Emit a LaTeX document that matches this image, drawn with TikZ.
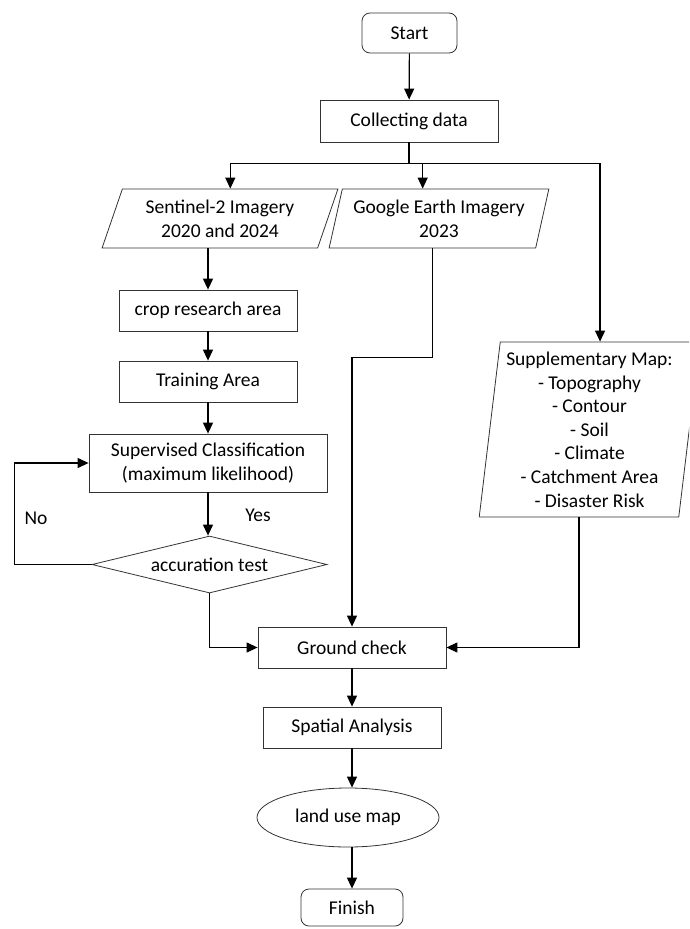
\documentclass[tikz,border=0pt]{standalone}
\usepackage{fontspec}
\setmainfont{Carlito}
\usetikzlibrary{shapes.geometric,arrows.meta}
\tikzset{>={Triangle[length=11pt,width=10pt]}}

\begin{document}
\begin{tikzpicture}[x=1pt,y=-1pt,
  every node/.style={font=\fontsize{19.5}{23.6}\selectfont,inner sep=0pt},
  box/.style={draw=black!80,line width=0.8pt,minimum height=41pt,minimum width=178pt},
  term/.style={box,rounded corners=8pt},
  io/.style={draw=black!80,line width=0.8pt,trapezium,trapezium stretches=true,align=center},
  arr/.style={->,line width=1.2pt}]
  \useasboundingbox (0,0) rectangle (689,929);
  \clip (0,0) rectangle (689,929);

  % top
  \node[term,minimum width=95pt,minimum height=40pt] (start) at (409.5,33) {Start};
  \node[box,minimum height=42pt] (collect) at (409,121) {Collecting data};
  \coordinate (split) at ([yshift=-21pt]collect.south);

  % input data
  \node[io,minimum width=236pt,minimum height=59pt,trapezium left angle=67.5,trapezium right angle=112.5] (sentinel) at (220,218.5) {Sentinel-2 Imagery\\2020 and 2024};
  \node[io,minimum width=220pt,minimum height=59pt,trapezium left angle=72.6,trapezium right angle=107.4] (google) at (439,218.5) {Google Earth Imagery\\2023};
  \node[io,minimum width=221pt,minimum height=175pt,trapezium left angle=82.8,trapezium right angle=97.2] (supp) at (589.5,429.5) {Supplementary Map:\\- Topography\\- Contour\\- Soil\\- Climate\\- Catchment Area\\- Disaster Risk};

  % classification
  \node[box] (crop) at (208,310.5) {crop research area};
  \node[box] (training) at (208,381.5) {Training Area};
  \node[box,minimum width=238pt,minimum height=58pt,align=center] (supervised) at (208,463) {Supervised Classification\\(maximum likelihood)};
  \node[diamond,draw=black!80,line width=0.8pt,aspect=4.12,minimum width=235pt,minimum height=57pt] (acc) at (209.5,564.5) {accuration test};
  \node (no) at (36,518) {No};
  \node (yes) at (258,515) {Yes};

  % bottom
  \node[box,minimum width=188pt] (ground) at (352,647.5) {Ground check};
  \node[box] (spatial) at (352,727.5) {Spatial Analysis};
  \node[ellipse,draw=black!80,line width=0.8pt,minimum width=182pt,minimum height=59pt] (landuse) at (348,817.5) {land use map};
  \node[term,minimum width=102pt,minimum height=37pt] (finish) at (352,907.5) {Finish};

  \draw[arr] (start) -- (collect);
  \draw[line width=1.2pt] (collect) -- (split);
  \draw[arr] (split) -| (sentinel.top side);
  \draw[arr] (split) -| ([xshift=-23pt]google.top side);
  \draw[arr] (split) -| (supp.top side);

  \draw[arr] (sentinel.bottom side -| crop) -- (crop);
  \draw[arr] (crop) -- (training);
  \draw[arr] (training) -- (supervised);
  \draw[arr] (supervised) -- (supervised |- acc.north);
  \draw[arr] (acc.west) -- ++(-77,0) |- (supervised.west);

  \draw[arr] (acc.south) |- (ground.west);
  \draw[arr] (google.bottom side) -- ++(0,109) -| (ground.north);
  \draw[arr] (supp.bottom side) |- (ground.east);
  \draw[arr] (ground) -- (spatial);
  \draw[arr] (spatial) -- (spatial |- landuse.north);
  \draw[arr] (landuse.south -| finish) -- (finish);
\end{tikzpicture}
\end{document}
